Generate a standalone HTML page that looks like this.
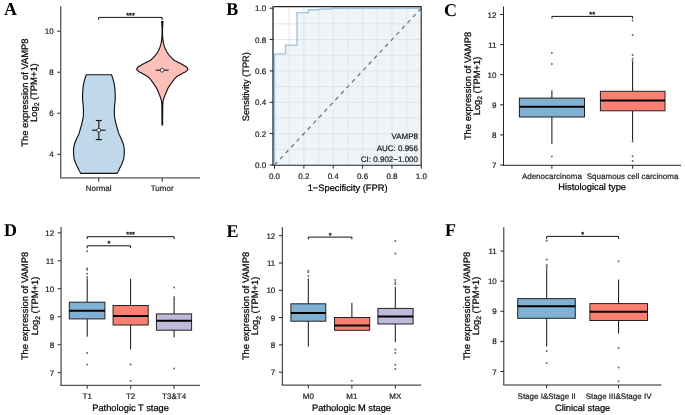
<!DOCTYPE html>
<html><head><meta charset="utf-8"><style>
html,body{margin:0;padding:0;background:#fff;width:685px;height:415px;overflow:hidden}
svg{display:block;will-change:transform}
svg text{font-family:'Liberation Sans', sans-serif;text-rendering:geometricPrecision;stroke-width:0.22px}
</style></head><body>
<svg width="685" height="415" viewBox="0 0 685 415">
<rect width="685" height="415" fill="#fff"/>
<text x="4" y="15.2" style="font-family:'Liberation Serif', serif;font-weight:bold" font-size="18" fill="#000">A</text>
<path d="M111.5,74.7 L111.73,75.32 L111.96,75.94 L112.18,76.56 L112.39,77.18 L112.6,77.8 L112.8,78.42 L113,79.04 L113.19,79.66 L113.36,80.28 L113.53,80.9 L113.68,81.52 L113.82,82.14 L113.96,82.76 L114.09,83.38 L114.21,84 L114.32,84.62 L114.42,85.24 L114.52,85.86 L114.6,86.48 L114.69,87.1 L114.76,87.72 L114.83,88.34 L114.89,88.96 L114.95,89.58 L115,90.2 L115.05,90.82 L115.09,91.44 L115.11,92.06 L115.14,92.68 L115.16,93.3 L115.18,93.92 L115.19,94.54 L115.2,95.16 L115.2,95.78 L115.2,96.4 L115.2,97.02 L115.2,97.64 L115.2,98.26 L115.2,98.88 L115.19,99.51 L115.16,100.13 L115.11,100.75 L115.04,101.37 L114.97,101.99 L114.9,102.61 L114.83,103.23 L114.78,103.85 L114.72,104.47 L114.67,105.09 L114.61,105.71 L114.56,106.33 L114.52,106.95 L114.48,107.57 L114.44,108.19 L114.41,108.81 L114.38,109.43 L114.36,110.05 L114.35,110.67 L114.35,111.29 L114.36,111.91 L114.36,112.53 L114.37,113.15 L114.38,113.77 L114.4,114.39 L114.42,115.01 L114.47,115.63 L114.54,116.25 L114.62,116.87 L114.71,117.49 L114.8,118.11 L114.9,118.73 L115.01,119.35 L115.13,119.97 L115.26,120.59 L115.39,121.21 L115.53,121.83 L115.67,122.45 L115.82,123.07 L115.97,123.69 L116.14,124.31 L116.3,124.93 L116.47,125.55 L116.65,126.17 L116.83,126.79 L117.02,127.41 L117.21,128.03 L117.4,128.65 L117.58,129.27 L117.75,129.89 L117.91,130.51 L118.07,131.13 L118.23,131.75 L118.41,132.37 L118.59,132.99 L118.8,133.61 L119.05,134.23 L119.33,134.85 L119.64,135.47 L119.96,136.09 L120.27,136.71 L120.56,137.33 L120.85,137.95 L121.13,138.57 L121.42,139.19 L121.69,139.81 L121.95,140.43 L122.2,141.05 L122.44,141.67 L122.68,142.29 L122.91,142.91 L123.12,143.53 L123.31,144.15 L123.47,144.77 L123.62,145.39 L123.76,146.01 L123.89,146.63 L124,147.25 L124.08,147.87 L124.13,148.49 L124.18,149.12 L124.23,149.74 L124.26,150.36 L124.29,150.98 L124.3,151.6 L124.29,152.22 L124.27,152.84 L124.24,153.46 L124.2,154.08 L124.15,154.7 L124.1,155.32 L124.04,155.94 L123.98,156.56 L123.9,157.18 L123.81,157.8 L123.71,158.42 L123.59,159.04 L123.42,159.66 L123.19,160.28 L122.97,160.9 L122.75,161.52 L122.52,162.14 L122.3,162.76 L122.06,163.38 L121.81,164 L121.55,164.62 L121.26,165.24 L120.96,165.86 L120.64,166.48 L120.31,167.1 L119.99,167.72 L119.68,168.34 L119.38,168.96 L119.09,169.58 L118.8,170.2 L118.49,170.82 L118.15,171.44 L117.78,172.06 L117.35,172.68 L116.9,173.3 L80.9,173.3 L80.45,172.68 L80.02,172.06 L79.65,171.44 L79.31,170.82 L79,170.2 L78.71,169.58 L78.42,168.96 L78.12,168.34 L77.81,167.72 L77.49,167.1 L77.16,166.48 L76.84,165.86 L76.54,165.24 L76.25,164.62 L75.99,164 L75.74,163.38 L75.5,162.76 L75.28,162.14 L75.05,161.52 L74.83,160.9 L74.61,160.28 L74.38,159.66 L74.21,159.04 L74.09,158.42 L73.99,157.8 L73.9,157.18 L73.82,156.56 L73.76,155.94 L73.7,155.32 L73.65,154.7 L73.6,154.08 L73.56,153.46 L73.53,152.84 L73.51,152.22 L73.5,151.6 L73.51,150.98 L73.54,150.36 L73.57,149.74 L73.62,149.12 L73.67,148.49 L73.72,147.87 L73.8,147.25 L73.91,146.63 L74.04,146.01 L74.18,145.39 L74.33,144.77 L74.49,144.15 L74.68,143.53 L74.89,142.91 L75.12,142.29 L75.36,141.67 L75.6,141.05 L75.85,140.43 L76.11,139.81 L76.38,139.19 L76.67,138.57 L76.95,137.95 L77.24,137.33 L77.53,136.71 L77.84,136.09 L78.16,135.47 L78.47,134.85 L78.75,134.23 L79,133.61 L79.21,132.99 L79.39,132.37 L79.57,131.75 L79.73,131.13 L79.89,130.51 L80.05,129.89 L80.22,129.27 L80.4,128.65 L80.59,128.03 L80.78,127.41 L80.97,126.79 L81.15,126.17 L81.33,125.55 L81.5,124.93 L81.66,124.31 L81.83,123.69 L81.98,123.07 L82.13,122.45 L82.27,121.83 L82.41,121.21 L82.54,120.59 L82.67,119.97 L82.79,119.35 L82.9,118.73 L83,118.11 L83.09,117.49 L83.18,116.87 L83.26,116.25 L83.33,115.63 L83.38,115.01 L83.4,114.39 L83.42,113.77 L83.43,113.15 L83.44,112.53 L83.44,111.91 L83.45,111.29 L83.45,110.67 L83.44,110.05 L83.42,109.43 L83.39,108.81 L83.36,108.19 L83.32,107.57 L83.28,106.95 L83.24,106.33 L83.19,105.71 L83.13,105.09 L83.08,104.47 L83.02,103.85 L82.97,103.23 L82.9,102.61 L82.83,101.99 L82.76,101.37 L82.69,100.75 L82.64,100.13 L82.61,99.51 L82.6,98.88 L82.6,98.26 L82.6,97.64 L82.6,97.02 L82.6,96.4 L82.6,95.78 L82.6,95.16 L82.61,94.54 L82.62,93.92 L82.64,93.3 L82.66,92.68 L82.69,92.06 L82.71,91.44 L82.75,90.82 L82.8,90.2 L82.85,89.58 L82.91,88.96 L82.97,88.34 L83.04,87.72 L83.11,87.1 L83.2,86.48 L83.28,85.86 L83.38,85.24 L83.48,84.62 L83.59,84 L83.71,83.38 L83.84,82.76 L83.98,82.14 L84.12,81.52 L84.27,80.9 L84.44,80.28 L84.61,79.66 L84.8,79.04 L85,78.42 L85.2,77.8 L85.41,77.18 L85.62,76.56 L85.84,75.94 L86.07,75.32 L86.3,74.7 Z" fill="#C0D8E9" stroke="#111" stroke-width="1.15" stroke-linejoin="round"/>
<path d="M162.9,21.3 L162.88,21.95 L162.85,22.6 L162.82,23.26 L162.8,23.91 L162.77,24.56 L162.74,25.21 L162.7,25.87 L162.66,26.52 L162.62,27.17 L162.58,27.82 L162.54,28.47 L162.51,29.13 L162.5,29.78 L162.5,30.43 L162.5,31.08 L162.51,31.74 L162.52,32.39 L162.53,33.04 L162.54,33.69 L162.56,34.34 L162.57,35 L162.59,35.65 L162.61,36.3 L162.65,36.95 L162.71,37.61 L162.78,38.26 L162.86,38.91 L162.94,39.56 L163.03,40.21 L163.12,40.87 L163.21,41.52 L163.32,42.17 L163.44,42.82 L163.57,43.47 L163.72,44.13 L163.9,44.78 L164.09,45.43 L164.31,46.08 L164.53,46.74 L164.77,47.39 L165.02,48.04 L165.29,48.69 L165.59,49.34 L165.9,50 L166.22,50.65 L166.57,51.3 L166.93,51.95 L167.32,52.61 L167.73,53.26 L168.18,53.91 L168.65,54.56 L169.17,55.21 L169.75,55.87 L170.36,56.52 L170.99,57.17 L171.63,57.82 L172.25,58.48 L172.84,59.13 L173.53,59.78 L174.45,60.43 L175.68,61.08 L176.98,61.74 L178.27,62.39 L179.6,63.04 L180.87,63.69 L182.07,64.35 L183.22,65 L184.33,65.65 L185.49,66.3 L186.46,66.95 L187.03,67.61 L187.5,68.26 L187.82,68.91 L187.88,69.56 L187.47,70.22 L186.69,70.87 L185.81,71.52 L184.8,72.17 L183.52,72.82 L182.21,73.48 L181.03,74.13 L179.86,74.78 L178.72,75.43 L177.68,76.08 L176.8,76.74 L176.02,77.39 L175.32,78.04 L174.69,78.69 L174.12,79.35 L173.62,80 L173.15,80.65 L172.69,81.3 L172.21,81.95 L171.73,82.61 L171.24,83.26 L170.76,83.91 L170.3,84.56 L169.86,85.22 L169.43,85.87 L169.01,86.52 L168.61,87.17 L168.22,87.82 L167.87,88.48 L167.54,89.13 L167.25,89.78 L166.99,90.43 L166.71,91.09 L166.43,91.74 L166.16,92.39 L165.88,93.04 L165.61,93.69 L165.35,94.35 L165.09,95 L164.85,95.65 L164.62,96.3 L164.37,96.96 L164.12,97.61 L163.88,98.26 L163.65,98.91 L163.44,99.56 L163.27,100.22 L163.15,100.87 L163.06,101.52 L162.99,102.17 L162.93,102.83 L162.88,103.48 L162.83,104.13 L162.79,104.78 L162.77,105.43 L162.75,106.09 L162.74,106.74 L162.72,107.39 L162.71,108.04 L162.7,108.69 L162.7,109.35 L162.69,110 L162.68,110.65 L162.68,111.3 L162.67,111.96 L162.67,112.61 L162.66,113.26 L162.66,113.91 L162.65,114.56 L162.65,115.22 L162.64,115.87 L162.64,116.52 L162.64,117.17 L162.63,117.83 L162.63,118.48 L162.62,119.13 L162.62,119.78 L162.62,120.43 L162.61,121.09 L162.61,121.74 L162.61,122.39 L162.61,123.04 L162.6,123.7 L162.6,124.35 L162.6,125 L162,125 L162,124.35 L162,123.7 L161.99,123.04 L161.99,122.39 L161.99,121.74 L161.99,121.09 L161.98,120.43 L161.98,119.78 L161.98,119.13 L161.97,118.48 L161.97,117.83 L161.96,117.17 L161.96,116.52 L161.96,115.87 L161.95,115.22 L161.95,114.56 L161.94,113.91 L161.94,113.26 L161.93,112.61 L161.93,111.96 L161.92,111.3 L161.92,110.65 L161.91,110 L161.9,109.35 L161.9,108.69 L161.89,108.04 L161.88,107.39 L161.86,106.74 L161.85,106.09 L161.83,105.43 L161.81,104.78 L161.77,104.13 L161.72,103.48 L161.67,102.83 L161.61,102.17 L161.54,101.52 L161.45,100.87 L161.33,100.22 L161.16,99.56 L160.95,98.91 L160.72,98.26 L160.48,97.61 L160.23,96.96 L159.98,96.3 L159.75,95.65 L159.51,95 L159.25,94.35 L158.99,93.69 L158.72,93.04 L158.44,92.39 L158.17,91.74 L157.89,91.09 L157.61,90.43 L157.35,89.78 L157.06,89.13 L156.73,88.48 L156.38,87.82 L155.99,87.17 L155.59,86.52 L155.17,85.87 L154.74,85.22 L154.3,84.56 L153.84,83.91 L153.36,83.26 L152.87,82.61 L152.39,81.95 L151.91,81.3 L151.45,80.65 L150.98,80 L150.48,79.35 L149.91,78.69 L149.28,78.04 L148.58,77.39 L147.8,76.74 L146.92,76.08 L145.88,75.43 L144.74,74.78 L143.57,74.13 L142.39,73.48 L141.08,72.82 L139.8,72.17 L138.79,71.52 L137.91,70.87 L137.13,70.22 L136.72,69.56 L136.78,68.91 L137.1,68.26 L137.57,67.61 L138.14,66.95 L139.11,66.3 L140.27,65.65 L141.38,65 L142.53,64.35 L143.73,63.69 L145,63.04 L146.33,62.39 L147.62,61.74 L148.92,61.08 L150.15,60.43 L151.07,59.78 L151.76,59.13 L152.35,58.48 L152.97,57.82 L153.61,57.17 L154.24,56.52 L154.85,55.87 L155.43,55.21 L155.95,54.56 L156.42,53.91 L156.87,53.26 L157.28,52.61 L157.67,51.95 L158.03,51.3 L158.38,50.65 L158.7,50 L159.01,49.34 L159.31,48.69 L159.58,48.04 L159.83,47.39 L160.07,46.74 L160.29,46.08 L160.51,45.43 L160.7,44.78 L160.88,44.13 L161.03,43.47 L161.16,42.82 L161.28,42.17 L161.39,41.52 L161.48,40.87 L161.57,40.21 L161.66,39.56 L161.74,38.91 L161.82,38.26 L161.89,37.61 L161.95,36.95 L161.99,36.3 L162.01,35.65 L162.03,35 L162.04,34.34 L162.06,33.69 L162.07,33.04 L162.08,32.39 L162.09,31.74 L162.1,31.08 L162.1,30.43 L162.1,29.78 L162.09,29.13 L162.06,28.47 L162.02,27.82 L161.98,27.17 L161.94,26.52 L161.9,25.87 L161.86,25.21 L161.83,24.56 L161.8,23.91 L161.78,23.26 L161.75,22.6 L161.72,21.95 L161.7,21.3 Z" fill="#FDC0B9" stroke="#111" stroke-width="1.15" stroke-linejoin="round"/>
<line x1="98.8" y1="120.5" x2="98.8" y2="139.6" stroke="#1a1a1a" stroke-width="1.15" />
<line x1="95.8" y1="120.5" x2="101.8" y2="120.5" stroke="#1a1a1a" stroke-width="1.15" />
<line x1="95.8" y1="139.6" x2="101.8" y2="139.6" stroke="#1a1a1a" stroke-width="1.15" />
<line x1="91.9" y1="130.2" x2="105.6" y2="130.2" stroke="#1a1a1a" stroke-width="1.15" />
<circle cx="98.8" cy="130.2" r="1.9" fill="#fff" stroke="#222" stroke-width="0.9"/>
<line x1="155.6" y1="70.2" x2="168.6" y2="70.2" stroke="#1a1a1a" stroke-width="1.15" />
<circle cx="162.2" cy="70.2" r="1.9" fill="#fff" stroke="#222" stroke-width="0.9"/>
<line x1="60.7" y1="6.3" x2="60.7" y2="177.8" stroke="#555" stroke-width="1.3" />
<line x1="57.3" y1="154.3" x2="60.7" y2="154.3" stroke="#555" stroke-width="1.3" />
<text x="53.7" y="157.3" font-size="8" text-anchor="end" fill="#262626" stroke="#262626" >4</text>
<line x1="57.3" y1="113.3" x2="60.7" y2="113.3" stroke="#555" stroke-width="1.3" />
<text x="53.7" y="116.3" font-size="8" text-anchor="end" fill="#262626" stroke="#262626" >6</text>
<line x1="57.3" y1="72.3" x2="60.7" y2="72.3" stroke="#555" stroke-width="1.3" />
<text x="53.7" y="75.3" font-size="8" text-anchor="end" fill="#262626" stroke="#262626" >8</text>
<line x1="57.3" y1="31.3" x2="60.7" y2="31.3" stroke="#555" stroke-width="1.3" />
<text x="53.7" y="34.3" font-size="8" text-anchor="end" fill="#262626" stroke="#262626" >10</text>
<line x1="60.05" y1="177.8" x2="200.1" y2="177.8" stroke="#555" stroke-width="1.3" />
<line x1="98.7" y1="177.8" x2="98.7" y2="181.8" stroke="#555" stroke-width="1.3" />
<text x="98.7" y="191" font-size="8" text-anchor="middle" fill="#262626" stroke="#262626" >Normal</text>
<line x1="162.2" y1="177.8" x2="162.2" y2="181.8" stroke="#555" stroke-width="1.3" />
<text x="162.2" y="191" font-size="8" text-anchor="middle" fill="#262626" stroke="#262626" >Tumor</text>
<path d="M98.7,19.8 V17.4 H162.2 V19.8" fill="none" stroke="#111" stroke-width="1"/>
<text x="130.45" y="18" font-size="7.4" text-anchor="middle" fill="#111" stroke="#111" style="stroke-width:0.35px">***</text>
<text transform="translate(27.9,92.6) rotate(-90)" font-size="9.4" text-anchor="middle" fill="#000" stroke="#000">The expression of VAMP8</text>
<text transform="translate(36.9,92.6) rotate(-90)" font-size="9.4" text-anchor="middle" fill="#000" stroke="#000">Log<tspan font-size="6.6" dy="2.2">2</tspan><tspan dy="-2.2"> (TPM+1)</tspan></text>
<text x="226.2" y="14.9" style="font-family:'Liberation Serif', serif;font-weight:bold" font-size="18" fill="#000">B</text>
<rect x="273.2" y="6.6" width="148" height="158.7" fill="#fff"/>
<path d="M274.5,165 L274.5,53.9 L285.5,53.9 L285.5,45.1 L297,45.1 L297,12.6 L308.3,12.6 L308.3,9.7 L320,9.7 L320,9 L331,9 L331,8.2 L421.3,8.2 L421.3,165.3 L274.5,165.3 Z" fill="#EFF4F9"/>
<line x1="289.18" y1="6.6" x2="289.18" y2="165.3" stroke="#DDE3E8" stroke-width="0.9" />
<line x1="273.2" y1="149.32" x2="421.3" y2="149.32" stroke="#DDE3E8" stroke-width="0.9" />
<line x1="303.86" y1="6.6" x2="303.86" y2="165.3" stroke="#DDE3E8" stroke-width="0.9" />
<line x1="273.2" y1="133.64" x2="421.3" y2="133.64" stroke="#DDE3E8" stroke-width="0.9" />
<line x1="318.54" y1="6.6" x2="318.54" y2="165.3" stroke="#DDE3E8" stroke-width="0.9" />
<line x1="273.2" y1="117.96" x2="421.3" y2="117.96" stroke="#DDE3E8" stroke-width="0.9" />
<line x1="333.22" y1="6.6" x2="333.22" y2="165.3" stroke="#DDE3E8" stroke-width="0.9" />
<line x1="273.2" y1="102.28" x2="421.3" y2="102.28" stroke="#DDE3E8" stroke-width="0.9" />
<line x1="347.9" y1="6.6" x2="347.9" y2="165.3" stroke="#DDE3E8" stroke-width="0.9" />
<line x1="273.2" y1="86.6" x2="421.3" y2="86.6" stroke="#DDE3E8" stroke-width="0.9" />
<line x1="362.58" y1="6.6" x2="362.58" y2="165.3" stroke="#DDE3E8" stroke-width="0.9" />
<line x1="273.2" y1="70.92" x2="421.3" y2="70.92" stroke="#DDE3E8" stroke-width="0.9" />
<line x1="377.26" y1="6.6" x2="377.26" y2="165.3" stroke="#DDE3E8" stroke-width="0.9" />
<line x1="273.2" y1="55.24" x2="421.3" y2="55.24" stroke="#DDE3E8" stroke-width="0.9" />
<line x1="391.94" y1="6.6" x2="391.94" y2="165.3" stroke="#DDE3E8" stroke-width="0.9" />
<line x1="273.2" y1="39.56" x2="421.3" y2="39.56" stroke="#DDE3E8" stroke-width="0.9" />
<line x1="406.62" y1="6.6" x2="406.62" y2="165.3" stroke="#DDE3E8" stroke-width="0.9" />
<line x1="273.2" y1="23.88" x2="421.3" y2="23.88" stroke="#DDE3E8" stroke-width="0.9" />
<line x1="274.5" y1="165" x2="421.3" y2="8.2" stroke="#777" stroke-width="1.3" stroke-dasharray="4.1,4"/>
<path d="M274.5,165 L274.5,53.9 L285.5,53.9 L285.5,45.1 L297,45.1 L297,12.6 L308.3,12.6 L308.3,9.7 L320,9.7 L320,9 L331,9 L331,8.2 L421.3,8.2" fill="none" stroke="#9EC4E0" stroke-width="1.35"/>
<path d="M273.2,6.6 H421.2 V165.3 H273.2" fill="none" stroke="#222" stroke-width="1.1"/>
<line x1="273" y1="6.1" x2="273" y2="165.9" stroke="#6a6a6a" stroke-width="1.9" />
<line x1="269.6" y1="165" x2="273.2" y2="165" stroke="#222" stroke-width="1.0" />
<text x="266.2" y="168" font-size="8" text-anchor="end" fill="#262626" stroke="#262626" >0.0</text>
<line x1="274.5" y1="165.3" x2="274.5" y2="168.7" stroke="#222" stroke-width="1.0" />
<text x="274.5" y="178.7" font-size="8" text-anchor="middle" fill="#262626" stroke="#262626" >0.0</text>
<line x1="269.6" y1="133.64" x2="273.2" y2="133.64" stroke="#222" stroke-width="1.0" />
<text x="266.2" y="136.64" font-size="8" text-anchor="end" fill="#262626" stroke="#262626" >0.2</text>
<line x1="303.86" y1="165.3" x2="303.86" y2="168.7" stroke="#222" stroke-width="1.0" />
<text x="303.86" y="178.7" font-size="8" text-anchor="middle" fill="#262626" stroke="#262626" >0.2</text>
<line x1="269.6" y1="102.28" x2="273.2" y2="102.28" stroke="#222" stroke-width="1.0" />
<text x="266.2" y="105.28" font-size="8" text-anchor="end" fill="#262626" stroke="#262626" >0.4</text>
<line x1="333.22" y1="165.3" x2="333.22" y2="168.7" stroke="#222" stroke-width="1.0" />
<text x="333.22" y="178.7" font-size="8" text-anchor="middle" fill="#262626" stroke="#262626" >0.4</text>
<line x1="269.6" y1="70.92" x2="273.2" y2="70.92" stroke="#222" stroke-width="1.0" />
<text x="266.2" y="73.92" font-size="8" text-anchor="end" fill="#262626" stroke="#262626" >0.6</text>
<line x1="362.58" y1="165.3" x2="362.58" y2="168.7" stroke="#222" stroke-width="1.0" />
<text x="362.58" y="178.7" font-size="8" text-anchor="middle" fill="#262626" stroke="#262626" >0.6</text>
<line x1="269.6" y1="39.56" x2="273.2" y2="39.56" stroke="#222" stroke-width="1.0" />
<text x="266.2" y="42.56" font-size="8" text-anchor="end" fill="#262626" stroke="#262626" >0.8</text>
<line x1="391.94" y1="165.3" x2="391.94" y2="168.7" stroke="#222" stroke-width="1.0" />
<text x="391.94" y="178.7" font-size="8" text-anchor="middle" fill="#262626" stroke="#262626" >0.8</text>
<line x1="269.6" y1="8.2" x2="273.2" y2="8.2" stroke="#222" stroke-width="1.0" />
<text x="266.2" y="11.2" font-size="8" text-anchor="end" fill="#262626" stroke="#262626" >1.0</text>
<line x1="421.3" y1="165.3" x2="421.3" y2="168.7" stroke="#222" stroke-width="1.0" />
<text x="421.3" y="178.7" font-size="8" text-anchor="middle" fill="#262626" stroke="#262626" >1.0</text>
<text x="347.6" y="190.5" font-size="9.3" text-anchor="middle" fill="#000" stroke="#000">1&#8722;Specificity (FPR)</text>
<text transform="translate(249.3,86.7) rotate(-90)" font-size="9.3" text-anchor="middle" fill="#000" stroke="#000">Sensitivity (TPR)</text>
<text x="418" y="139" font-size="8" text-anchor="end" fill="#222" stroke="#222" >VAMP8</text>
<text x="418" y="150.5" font-size="8" text-anchor="end" fill="#222" stroke="#222" >AUC: 0.956</text>
<text x="418" y="162" font-size="8" text-anchor="end" fill="#222" stroke="#222" >CI: 0.902&#8722;1.000</text>
<text x="444" y="15.5" style="font-family:'Liberation Serif', serif;font-weight:bold" font-size="18" fill="#000">C</text>
<line x1="551.9" y1="90.3" x2="551.9" y2="98.1" stroke="#111" stroke-width="1" />
<line x1="551.9" y1="117" x2="551.9" y2="144" stroke="#111" stroke-width="1" />
<rect x="519.4" y="98.1" width="65.1" height="18.9" fill="#80B1D3" stroke="#222" stroke-width="1"/>
<line x1="519.4" y1="106.8" x2="584.5" y2="106.8" stroke="#000" stroke-width="2" />
<circle cx="551.9" cy="53" r="1" fill="#6a6a6a"/>
<circle cx="551.9" cy="63.9" r="1" fill="#6a6a6a"/>
<circle cx="551.9" cy="156.6" r="1" fill="#6a6a6a"/>
<line x1="632.6" y1="62" x2="632.6" y2="91.3" stroke="#111" stroke-width="1" />
<line x1="632.6" y1="110.8" x2="632.6" y2="140.7" stroke="#111" stroke-width="1" />
<rect x="600.4" y="91.3" width="64.6" height="19.5" fill="#FB8072" stroke="#222" stroke-width="1"/>
<line x1="600.4" y1="100.6" x2="665" y2="100.6" stroke="#000" stroke-width="2" />
<circle cx="632.6" cy="20.4" r="1" fill="#6a6a6a"/>
<circle cx="632.6" cy="34.9" r="1" fill="#6a6a6a"/>
<circle cx="632.6" cy="54.9" r="1" fill="#6a6a6a"/>
<circle cx="632.6" cy="58.8" r="1" fill="#6a6a6a"/>
<circle cx="632.6" cy="61" r="1" fill="#6a6a6a"/>
<circle cx="632.6" cy="141.5" r="1" fill="#6a6a6a"/>
<circle cx="632.6" cy="156.3" r="1" fill="#6a6a6a"/>
<circle cx="632.6" cy="160.9" r="1" fill="#6a6a6a"/>
<line x1="503.5" y1="6.6" x2="503.5" y2="165.3" stroke="#222" stroke-width="1.0" />
<line x1="500.1" y1="165" x2="503.5" y2="165" stroke="#222" stroke-width="1.0" />
<text x="496.5" y="168" font-size="8" text-anchor="end" fill="#262626" stroke="#262626" >7</text>
<line x1="500.1" y1="134.9" x2="503.5" y2="134.9" stroke="#222" stroke-width="1.0" />
<text x="496.5" y="137.9" font-size="8" text-anchor="end" fill="#262626" stroke="#262626" >8</text>
<line x1="500.1" y1="104.8" x2="503.5" y2="104.8" stroke="#222" stroke-width="1.0" />
<text x="496.5" y="107.8" font-size="8" text-anchor="end" fill="#262626" stroke="#262626" >9</text>
<line x1="500.1" y1="74.7" x2="503.5" y2="74.7" stroke="#222" stroke-width="1.0" />
<text x="496.5" y="77.7" font-size="8" text-anchor="end" fill="#262626" stroke="#262626" >10</text>
<line x1="500.1" y1="44.6" x2="503.5" y2="44.6" stroke="#222" stroke-width="1.0" />
<text x="496.5" y="47.6" font-size="8" text-anchor="end" fill="#262626" stroke="#262626" >11</text>
<line x1="500.1" y1="14.5" x2="503.5" y2="14.5" stroke="#222" stroke-width="1.0" />
<text x="496.5" y="17.5" font-size="8" text-anchor="end" fill="#262626" stroke="#262626" >12</text>
<line x1="503" y1="165.3" x2="681" y2="165.3" stroke="#222" stroke-width="1.0" />
<line x1="551.9" y1="165.3" x2="551.9" y2="168.7" stroke="#222" stroke-width="1.0" />
<text x="551.9" y="178.7" font-size="8" text-anchor="middle" fill="#262626" stroke="#262626" >Adenocarcinoma</text>
<line x1="632.6" y1="165.3" x2="632.6" y2="168.7" stroke="#222" stroke-width="1.0" />
<text x="632.6" y="178.7" font-size="8" text-anchor="middle" fill="#262626" stroke="#262626" >Squamous cell carcinoma</text>
<path d="M551.9,18.6 V16.4 H632.6 V18.6" fill="none" stroke="#111" stroke-width="1"/>
<text x="592.25" y="17" font-size="7.4" text-anchor="middle" fill="#111" stroke="#111" style="stroke-width:0.35px">**</text>
<text transform="translate(470.6,86) rotate(-90)" font-size="9.4" text-anchor="middle" fill="#000" stroke="#000">The expression of VAMP8</text>
<text transform="translate(479.6,86) rotate(-90)" font-size="9.4" text-anchor="middle" fill="#000" stroke="#000">Log<tspan font-size="6.6" dy="2.2">2</tspan><tspan dy="-2.2"> (TPM+1)</tspan></text>
<text x="592.2" y="190" font-size="9.3" text-anchor="middle" fill="#000" stroke="#000">Histological type</text>
<text x="4" y="236.4" style="font-family:'Liberation Serif', serif;font-weight:bold" font-size="18" fill="#000">D</text>
<line x1="87.2" y1="278.3" x2="87.2" y2="302.2" stroke="#111" stroke-width="1" />
<line x1="87.2" y1="318.9" x2="87.2" y2="336.7" stroke="#111" stroke-width="1" />
<rect x="69.3" y="302.2" width="35.6" height="16.7" fill="#80B1D3" stroke="#222" stroke-width="1"/>
<line x1="69.3" y1="310.7" x2="104.9" y2="310.7" stroke="#000" stroke-width="2" />
<circle cx="87.2" cy="251.2" r="1" fill="#6a6a6a"/>
<circle cx="87.2" cy="268.4" r="1" fill="#6a6a6a"/>
<circle cx="87.2" cy="269.8" r="1" fill="#6a6a6a"/>
<circle cx="87.2" cy="273.8" r="1" fill="#6a6a6a"/>
<circle cx="87.2" cy="277" r="1" fill="#6a6a6a"/>
<circle cx="87.2" cy="352.9" r="1" fill="#6a6a6a"/>
<circle cx="87.2" cy="364.6" r="1" fill="#6a6a6a"/>
<line x1="130.6" y1="278.8" x2="130.6" y2="305.5" stroke="#111" stroke-width="1" />
<line x1="130.6" y1="325" x2="130.6" y2="349.4" stroke="#111" stroke-width="1" />
<rect x="113.1" y="305.5" width="35.1" height="19.5" fill="#FB8072" stroke="#222" stroke-width="1"/>
<line x1="113.1" y1="316.1" x2="148.2" y2="316.1" stroke="#000" stroke-width="2" />
<circle cx="130.6" cy="364.4" r="1" fill="#6a6a6a"/>
<circle cx="130.6" cy="381.1" r="1" fill="#6a6a6a"/>
<line x1="174.1" y1="296.3" x2="174.1" y2="313.9" stroke="#111" stroke-width="1" />
<line x1="174.1" y1="330.2" x2="174.1" y2="337.3" stroke="#111" stroke-width="1" />
<rect x="156.4" y="313.9" width="35.2" height="16.3" fill="#BEBADA" stroke="#222" stroke-width="1"/>
<line x1="156.4" y1="320.7" x2="191.6" y2="320.7" stroke="#000" stroke-width="2" />
<circle cx="174.1" cy="287.4" r="1" fill="#6a6a6a"/>
<circle cx="174.1" cy="368.6" r="1" fill="#6a6a6a"/>
<line x1="61.1" y1="227" x2="61.1" y2="385.4" stroke="#555" stroke-width="1.3" />
<line x1="57.7" y1="372.5" x2="61.1" y2="372.5" stroke="#555" stroke-width="1.3" />
<text x="54.1" y="375.5" font-size="8" text-anchor="end" fill="#262626" stroke="#262626" >7</text>
<line x1="57.7" y1="344.56" x2="61.1" y2="344.56" stroke="#555" stroke-width="1.3" />
<text x="54.1" y="347.56" font-size="8" text-anchor="end" fill="#262626" stroke="#262626" >8</text>
<line x1="57.7" y1="316.62" x2="61.1" y2="316.62" stroke="#555" stroke-width="1.3" />
<text x="54.1" y="319.62" font-size="8" text-anchor="end" fill="#262626" stroke="#262626" >9</text>
<line x1="57.7" y1="288.68" x2="61.1" y2="288.68" stroke="#555" stroke-width="1.3" />
<text x="54.1" y="291.68" font-size="8" text-anchor="end" fill="#262626" stroke="#262626" >10</text>
<line x1="57.7" y1="260.74" x2="61.1" y2="260.74" stroke="#555" stroke-width="1.3" />
<text x="54.1" y="263.74" font-size="8" text-anchor="end" fill="#262626" stroke="#262626" >11</text>
<line x1="57.7" y1="232.8" x2="61.1" y2="232.8" stroke="#555" stroke-width="1.3" />
<text x="54.1" y="235.8" font-size="8" text-anchor="end" fill="#262626" stroke="#262626" >12</text>
<line x1="60.45" y1="385.4" x2="200.1" y2="385.4" stroke="#555" stroke-width="1.3" />
<line x1="87.2" y1="385.4" x2="87.2" y2="388.8" stroke="#555" stroke-width="1.3" />
<text x="87.2" y="398.7" font-size="8" text-anchor="middle" fill="#262626" stroke="#262626" >T1</text>
<line x1="130.6" y1="385.4" x2="130.6" y2="388.8" stroke="#555" stroke-width="1.3" />
<text x="130.6" y="398.7" font-size="8" text-anchor="middle" fill="#262626" stroke="#262626" >T2</text>
<line x1="174.1" y1="385.4" x2="174.1" y2="388.8" stroke="#555" stroke-width="1.3" />
<text x="174.1" y="398.7" font-size="8" text-anchor="middle" fill="#262626" stroke="#262626" >T3&amp;T4</text>
<path d="M87.2,239.1 V236.7 H174.1 V239.1" fill="none" stroke="#111" stroke-width="1"/>
<text x="130.65" y="237.3" font-size="7.4" text-anchor="middle" fill="#111" stroke="#111" style="stroke-width:0.35px">***</text>
<path d="M87.2,248.2 V245.8 H130.6 V248.2" fill="none" stroke="#111" stroke-width="1"/>
<text x="108.9" y="246.4" font-size="7.4" text-anchor="middle" fill="#111" stroke="#111" style="stroke-width:0.35px">*</text>
<text transform="translate(28.3,306) rotate(-90)" font-size="9.4" text-anchor="middle" fill="#000" stroke="#000">The expression of VAMP8</text>
<text transform="translate(37.5,306) rotate(-90)" font-size="9.4" text-anchor="middle" fill="#000" stroke="#000">Log<tspan font-size="6.6" dy="2.2">2</tspan><tspan dy="-2.2"> (TPM+1)</tspan></text>
<text x="130.6" y="410.5" font-size="9.3" text-anchor="middle" fill="#000" stroke="#000">Pathologic T stage</text>
<text x="226.5" y="236.6" style="font-family:'Liberation Serif', serif;font-weight:bold" font-size="18" fill="#000">E</text>
<line x1="308.3" y1="278.3" x2="308.3" y2="303.8" stroke="#111" stroke-width="1" />
<line x1="308.3" y1="321.2" x2="308.3" y2="346.5" stroke="#111" stroke-width="1" />
<rect x="290.9" y="303.8" width="34.9" height="17.4" fill="#80B1D3" stroke="#222" stroke-width="1"/>
<line x1="290.9" y1="313" x2="325.8" y2="313" stroke="#000" stroke-width="2" />
<circle cx="308.3" cy="270.7" r="1" fill="#6a6a6a"/>
<circle cx="308.3" cy="272.3" r="1" fill="#6a6a6a"/>
<circle cx="308.3" cy="275.9" r="1" fill="#6a6a6a"/>
<line x1="351.9" y1="302.8" x2="351.9" y2="317.5" stroke="#111" stroke-width="1" />
<line x1="351.9" y1="330.3" x2="351.9" y2="331" stroke="#111" stroke-width="1" />
<rect x="334.5" y="317.5" width="35.2" height="12.8" fill="#FB8072" stroke="#222" stroke-width="1"/>
<line x1="334.5" y1="325.5" x2="369.7" y2="325.5" stroke="#000" stroke-width="2" />
<circle cx="351.9" cy="380.8" r="1" fill="#6a6a6a"/>
<line x1="395.3" y1="286.8" x2="395.3" y2="308.4" stroke="#111" stroke-width="1" />
<line x1="395.3" y1="324" x2="395.3" y2="342.2" stroke="#111" stroke-width="1" />
<rect x="377.9" y="308.4" width="35.2" height="15.6" fill="#BEBADA" stroke="#222" stroke-width="1"/>
<line x1="377.9" y1="316.4" x2="413.1" y2="316.4" stroke="#000" stroke-width="2" />
<circle cx="395.3" cy="240.9" r="1" fill="#6a6a6a"/>
<circle cx="395.3" cy="253.5" r="1" fill="#6a6a6a"/>
<circle cx="395.3" cy="280.1" r="1" fill="#6a6a6a"/>
<circle cx="395.3" cy="282.4" r="1" fill="#6a6a6a"/>
<circle cx="395.3" cy="284.2" r="1" fill="#6a6a6a"/>
<circle cx="395.3" cy="349.5" r="1" fill="#6a6a6a"/>
<circle cx="395.3" cy="353" r="1" fill="#6a6a6a"/>
<circle cx="395.3" cy="364.8" r="1" fill="#6a6a6a"/>
<circle cx="395.3" cy="368.9" r="1" fill="#6a6a6a"/>
<line x1="282.3" y1="227.1" x2="282.3" y2="385.1" stroke="#222" stroke-width="1.0" />
<line x1="278.9" y1="372.2" x2="282.3" y2="372.2" stroke="#222" stroke-width="1.0" />
<text x="275.3" y="375.2" font-size="8" text-anchor="end" fill="#262626" stroke="#262626" >7</text>
<line x1="278.9" y1="344.9" x2="282.3" y2="344.9" stroke="#222" stroke-width="1.0" />
<text x="275.3" y="347.9" font-size="8" text-anchor="end" fill="#262626" stroke="#262626" >8</text>
<line x1="278.9" y1="317.6" x2="282.3" y2="317.6" stroke="#222" stroke-width="1.0" />
<text x="275.3" y="320.6" font-size="8" text-anchor="end" fill="#262626" stroke="#262626" >9</text>
<line x1="278.9" y1="290.3" x2="282.3" y2="290.3" stroke="#222" stroke-width="1.0" />
<text x="275.3" y="293.3" font-size="8" text-anchor="end" fill="#262626" stroke="#262626" >10</text>
<line x1="278.9" y1="263" x2="282.3" y2="263" stroke="#222" stroke-width="1.0" />
<text x="275.3" y="266" font-size="8" text-anchor="end" fill="#262626" stroke="#262626" >11</text>
<line x1="278.9" y1="235.7" x2="282.3" y2="235.7" stroke="#222" stroke-width="1.0" />
<text x="275.3" y="238.7" font-size="8" text-anchor="end" fill="#262626" stroke="#262626" >12</text>
<line x1="281.8" y1="385.1" x2="421.2" y2="385.1" stroke="#222" stroke-width="1.0" />
<line x1="308.3" y1="385.1" x2="308.3" y2="388.5" stroke="#222" stroke-width="1.0" />
<text x="308.3" y="398.7" font-size="8" text-anchor="middle" fill="#262626" stroke="#262626" >M0</text>
<line x1="351.9" y1="385.1" x2="351.9" y2="388.5" stroke="#222" stroke-width="1.0" />
<text x="351.9" y="398.7" font-size="8" text-anchor="middle" fill="#262626" stroke="#262626" >M1</text>
<line x1="395.3" y1="385.1" x2="395.3" y2="388.5" stroke="#222" stroke-width="1.0" />
<text x="395.3" y="398.7" font-size="8" text-anchor="middle" fill="#262626" stroke="#262626" >MX</text>
<path d="M308.3,239.3 V237.1 H351.9 V239.3" fill="none" stroke="#111" stroke-width="1"/>
<text x="330.1" y="237.7" font-size="7.4" text-anchor="middle" fill="#111" stroke="#111" style="stroke-width:0.35px">*</text>
<text transform="translate(249.3,306) rotate(-90)" font-size="9.4" text-anchor="middle" fill="#000" stroke="#000">The expression of VAMP8</text>
<text transform="translate(258.3,306) rotate(-90)" font-size="9.4" text-anchor="middle" fill="#000" stroke="#000">Log<tspan font-size="6.6" dy="2.2">2</tspan><tspan dy="-2.2"> (TPM+1)</tspan></text>
<text x="351.5" y="410.5" font-size="9.3" text-anchor="middle" fill="#000" stroke="#000">Pathologic M stage</text>
<text x="445" y="236.4" style="font-family:'Liberation Serif', serif;font-weight:bold" font-size="18" fill="#000">F</text>
<line x1="546.7" y1="269.3" x2="546.7" y2="298.6" stroke="#111" stroke-width="1" />
<line x1="546.7" y1="318.3" x2="546.7" y2="346.5" stroke="#111" stroke-width="1" />
<rect x="517.7" y="298.6" width="57.6" height="19.7" fill="#80B1D3" stroke="#222" stroke-width="1"/>
<line x1="517.7" y1="306.2" x2="575.3" y2="306.2" stroke="#000" stroke-width="2" />
<circle cx="546.7" cy="240.8" r="1" fill="#6a6a6a"/>
<circle cx="546.7" cy="259.4" r="1" fill="#6a6a6a"/>
<circle cx="546.7" cy="264.9" r="1" fill="#6a6a6a"/>
<circle cx="546.7" cy="266.6" r="1" fill="#6a6a6a"/>
<circle cx="546.7" cy="268.2" r="1" fill="#6a6a6a"/>
<circle cx="546.7" cy="350.9" r="1" fill="#6a6a6a"/>
<circle cx="546.7" cy="363.1" r="1" fill="#6a6a6a"/>
<line x1="618.6" y1="279.6" x2="618.6" y2="303.6" stroke="#111" stroke-width="1" />
<line x1="618.6" y1="320.5" x2="618.6" y2="333.6" stroke="#111" stroke-width="1" />
<rect x="589.9" y="303.6" width="57.6" height="16.9" fill="#FB8072" stroke="#222" stroke-width="1"/>
<line x1="589.9" y1="311.7" x2="647.5" y2="311.7" stroke="#000" stroke-width="2" />
<circle cx="618.6" cy="261.2" r="1" fill="#6a6a6a"/>
<circle cx="618.6" cy="347.9" r="1" fill="#6a6a6a"/>
<circle cx="618.6" cy="367.5" r="1" fill="#6a6a6a"/>
<circle cx="618.6" cy="381.2" r="1" fill="#6a6a6a"/>
<line x1="503.8" y1="227.2" x2="503.8" y2="385" stroke="#222" stroke-width="1.0" />
<line x1="500.4" y1="371.5" x2="503.8" y2="371.5" stroke="#222" stroke-width="1.0" />
<text x="496.8" y="374.5" font-size="8" text-anchor="end" fill="#262626" stroke="#262626" >7</text>
<line x1="500.4" y1="341.38" x2="503.8" y2="341.38" stroke="#222" stroke-width="1.0" />
<text x="496.8" y="344.38" font-size="8" text-anchor="end" fill="#262626" stroke="#262626" >8</text>
<line x1="500.4" y1="311.26" x2="503.8" y2="311.26" stroke="#222" stroke-width="1.0" />
<text x="496.8" y="314.26" font-size="8" text-anchor="end" fill="#262626" stroke="#262626" >9</text>
<line x1="500.4" y1="281.14" x2="503.8" y2="281.14" stroke="#222" stroke-width="1.0" />
<text x="496.8" y="284.14" font-size="8" text-anchor="end" fill="#262626" stroke="#262626" >10</text>
<line x1="500.4" y1="251.02" x2="503.8" y2="251.02" stroke="#222" stroke-width="1.0" />
<text x="496.8" y="254.02" font-size="8" text-anchor="end" fill="#262626" stroke="#262626" >11</text>
<line x1="503.3" y1="385" x2="661.4" y2="385" stroke="#222" stroke-width="1.0" />
<line x1="546.7" y1="385" x2="546.7" y2="388.4" stroke="#222" stroke-width="1.0" />
<text x="546.7" y="398.9" font-size="8" text-anchor="middle" fill="#262626" stroke="#262626" >Stage I&amp;Stage II</text>
<line x1="618.6" y1="385" x2="618.6" y2="388.4" stroke="#222" stroke-width="1.0" />
<text x="618.6" y="398.9" font-size="8" text-anchor="middle" fill="#262626" stroke="#262626" >Stage III&amp;Stage IV</text>
<path d="M546.7,239 V236.4 H618.6 V239" fill="none" stroke="#111" stroke-width="1"/>
<text x="582.65" y="237" font-size="7.4" text-anchor="middle" fill="#111" stroke="#111" style="stroke-width:0.35px">*</text>
<text transform="translate(470.2,306) rotate(-90)" font-size="9.4" text-anchor="middle" fill="#000" stroke="#000">The expression of VAMP8</text>
<text transform="translate(479.2,306) rotate(-90)" font-size="9.4" text-anchor="middle" fill="#000" stroke="#000">Log<tspan font-size="6.6" dy="2.2">2</tspan><tspan dy="-2.2"> (TPM+1)</tspan></text>
<text x="582.6" y="410.5" font-size="9.3" text-anchor="middle" fill="#000" stroke="#000">Clinical stage</text>
</svg>
</body></html>
